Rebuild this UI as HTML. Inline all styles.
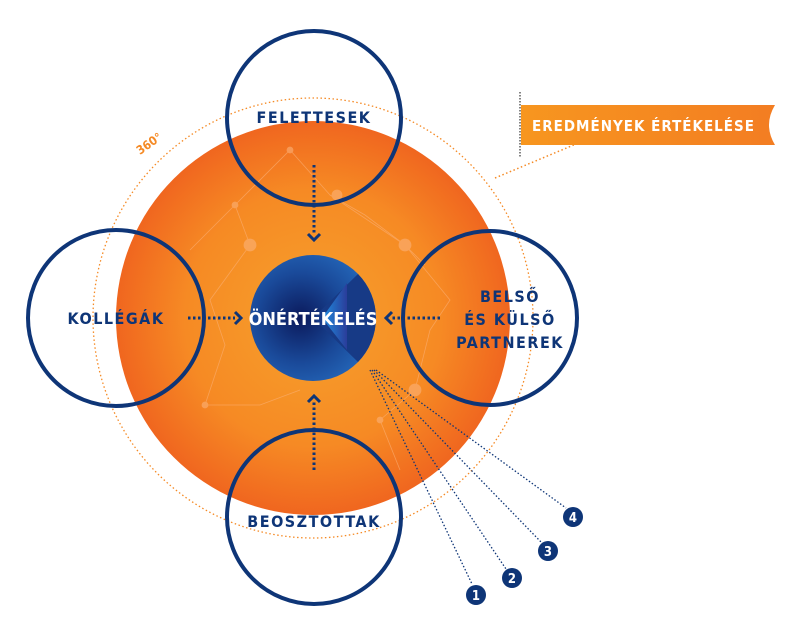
<!DOCTYPE html>
<html><head><meta charset="utf-8"><style>
html,body{margin:0;padding:0;background:#fff;}
svg{display:block;}
text{font-family:"DejaVu Sans Condensed","Liberation Sans",sans-serif;font-weight:bold;}
</style></head><body>
<svg width="800" height="631" viewBox="0 0 800 631" xmlns="http://www.w3.org/2000/svg">
<defs>
<radialGradient id="og" cx="50%" cy="50%" r="50%">
<stop offset="0" stop-color="#f7a12c"/><stop offset="0.65" stop-color="#f68a24"/><stop offset="1" stop-color="#f0661f"/>
</radialGradient>
<radialGradient id="bg" cx="40%" cy="50%" r="60%">
<stop offset="0" stop-color="#0b1a5c"/><stop offset="0.6" stop-color="#1a4a9a"/><stop offset="1" stop-color="#2466b8"/>
</radialGradient>
<linearGradient id="wg" x1="0" x2="1" y1="0" y2="0">
<stop offset="0" stop-color="#1f8de0"/><stop offset="1" stop-color="#2a3d9a"/>
</linearGradient>
<linearGradient id="ban" x1="0" x2="1"><stop offset="0" stop-color="#f7961f"/><stop offset="1" stop-color="#f37d22"/></linearGradient>
</defs>
<circle cx="313" cy="318" r="220" fill="none" stroke="#f58a25" stroke-width="1.3" stroke-dasharray="1.5 2.5"/>
<line x1="495" y1="178" x2="576" y2="144" stroke="#f58a25" stroke-width="1.5" stroke-dasharray="1.5 2.5"/>
<circle cx="313" cy="318" r="197" fill="url(#og)"/>
<g stroke="#fbb27a" stroke-width="0.8" fill="#fbb27a" opacity="0.6">
<polyline points="190,250 235,205 290,150 330,195 405,245 425,265" fill="none"/>
<polyline points="235,205 250,245 210,300 225,345 205,405 260,405 300,390" fill="none"/>
<polyline points="405,245 450,300 430,330 415,390 380,420 400,470" fill="none"/>
<polyline points="330,195 365,215 405,245" fill="none"/>
<circle cx="250" cy="245" r="6"/><circle cx="405" cy="245" r="6"/><circle cx="337" cy="195" r="5"/><circle cx="415" cy="390" r="6"/><circle cx="205" cy="405" r="3"/><circle cx="290" cy="150" r="3"/><circle cx="235" cy="205" r="3"/><circle cx="380" cy="420" r="3"/>
</g>
<text x="140" y="155" font-size="12" fill="#f58a25" font-weight="normal" transform="rotate(-35 140 155)">360°</text>
<g fill="none" stroke="#0e3577" stroke-width="4">
<circle cx="314" cy="118" r="87"/><circle cx="116" cy="318" r="88"/><circle cx="490" cy="318" r="87"/><circle cx="314" cy="517" r="87"/>
</g>
<circle cx="313" cy="318" r="63" fill="url(#bg)"/>
<path d="M313,318 L358,274 A63,63 0 0 1 358,362 Z" fill="#173a86"/>
<path d="M322,318 L347,283 L347,350 Z" fill="url(#wg)"/>
<text x="313" y="325" font-size="18" fill="#fff" text-anchor="middle">ÖNÉRTÉKELÉS</text>
<g stroke="#0e3577" stroke-width="3" stroke-dasharray="2.5 2.5" fill="none">
<line x1="314" y1="165" x2="314" y2="235"/><line x1="188" y1="318" x2="235" y2="318"/>
<line x1="440" y1="318" x2="392" y2="318"/><line x1="314" y1="470" x2="314" y2="402"/>
</g>
<g fill="none" stroke="#0e3577" stroke-width="3">
<polyline points="308,234 314,240 320,234"/><polyline points="235,312 241,318 235,324"/>
<polyline points="392,312 386,318 392,324"/><polyline points="308,402 314,396 320,402"/>
</g>
<g fill="#0e3577" font-size="16" text-anchor="middle" letter-spacing="1.5">
<text x="314" y="123">FELETTESEK</text>
<text x="116" y="324">KOLLÉGÁK</text>
<text x="314" y="527">BEOSZTOTTAK</text>
<text x="510" y="302">BELSŐ</text>
<text x="510" y="325">ÉS KÜLSŐ</text>
<text x="510" y="348">PARTNEREK</text>
</g>
<g stroke="#0e3577" stroke-width="1.3" stroke-dasharray="1.5 2">
<line x1="370" y1="370" x2="472" y2="584"/><line x1="372" y1="370" x2="506" y2="569"/>
<line x1="374" y1="370" x2="541" y2="542"/><line x1="376" y1="370" x2="566" y2="508"/>
</g>
<g fill="#0e3577"><circle cx="476" cy="595" r="10"/><circle cx="512" cy="578" r="10"/><circle cx="548" cy="551" r="10"/><circle cx="573" cy="517" r="10"/></g>
<g fill="#fff" font-size="13" font-weight="normal" text-anchor="middle">
<text x="476" y="600">1</text><text x="512" y="583">2</text><text x="548" y="556">3</text><text x="573" y="522">4</text>
</g>
<line x1="520" y1="92" x2="520" y2="158" stroke="#333" stroke-width="1.2" stroke-dasharray="1.5 1.5"/>
<path d="M521,105 L775,105 Q763,125 775,145 L521,145 Z" fill="url(#ban)"/>
<text x="532" y="131" font-size="15" fill="#fff" letter-spacing="1">EREDMÉNYEK ÉRTÉKELÉSE</text>
</svg>
</body></html>
